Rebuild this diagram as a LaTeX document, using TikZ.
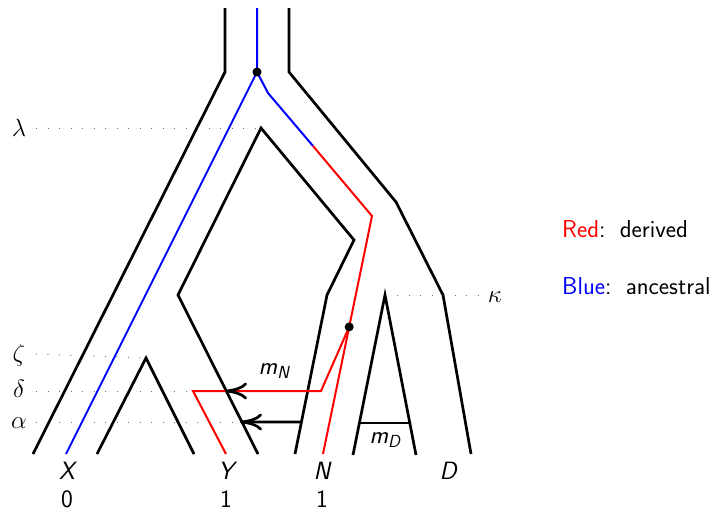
\documentclass[tikz,border=0pt]{standalone}
\usepackage{fontspec}
\usetikzlibrary{arrows.meta,calc}
\begin{document}
\begin{tikzpicture}[x=1pt,y=-1pt,
  blk/.style={line width=2.7pt,black},
  rd/.style={line width=2pt,red},
  blu/.style={line width=2pt,blue},
  dots/.style={black!55,line width=1pt,dash pattern=on 1pt off 10.5pt},
  lab/.style={font=\fontsize{25}{29}\selectfont\sffamily\itshape,inner sep=0pt},
  mlab/.style={font=\fontsize{25}{29}\selectfont\sffamily\itshape,inner sep=0pt},
  num/.style={font=\fontsize{25}{29}\selectfont\sffamily,inner sep=0pt},
  glab/.style={font=\fontsize{25}{29}\selectfont,inner sep=0pt},
  leg/.style={font=\fontsize{24.5}{29}\selectfont\sffamily,inner sep=0pt},
  tip/.style={-{To[length=22pt,width=17pt]}},
  dotn/.style={circle,fill=black,inner sep=0pt,minimum size=9pt}]
\useasboundingbox (0,0) rectangle (725,514);
% outer tree
\coordinate (oLt) at (225,8); \coordinate (oLk) at (225,72); \coordinate (oLb) at (33,454);
\coordinate (oRt) at (289,8); \coordinate (oRk) at (289,72); \coordinate (oRm) at (396,202);
\coordinate (kap) at (443,295); \coordinate (oRb) at (471,454);
% gene path
\coordinate (bt) at (257,8); \coordinate (top) at (257,72); \coordinate (Xb) at (66,454);
\coordinate (b1) at (268,93); \coordinate (sw) at (313,146); \coordinate (rk) at (372,216);
\coordinate (Nb) at (323,454); \coordinate (mut) at ($(rk)!0.466!(Nb)$);
\coordinate (mN) at (321,391); \coordinate (del) at (193,391); \coordinate (Yb) at (226,454);
\coordinate (rA1) at (227,391); \coordinate (rA2) at (225,391);
% inner tree
\coordinate (iA) at (261,128); \coordinate (iR1) at (354,240); \coordinate (iR2) at (327,295);
\coordinate (iRb) at (295,454); \coordinate (iL) at (178,295); \coordinate (iLb) at (258,454);
\coordinate (aS) at ($(iR2)!0.799!(iRb)$); \coordinate (aT) at (240,422);
% small tree
\coordinate (sL) at (97,454); \coordinate (sA) at (146,358); \coordinate (sR) at (194,454);
% D tree
\coordinate (dL) at (353,455); \coordinate (dA) at (385,295); \coordinate (dR) at (416,455);
\coordinate (mD1) at ($(dA)!0.8!(dL)$); \coordinate (mD2) at ($(dA)!0.8!(dR)$);

% labels
\node[glab] (lam) at (19,128) {$\lambda$};
\node[glab] (zet) at (19,355) {$\zeta$};
\node[glab] (dlt) at (19,389) {$\delta$};
\node[glab] (alp) at (19,423) {$\alpha$};
\node[glab] (kpl) at (495,297) {$\kappa$};
\draw[dots] ($(lam.center)+(17,0)$) -- (iA);
\draw[dots] ($(zet.center)+(17,-1)$) -- (sA);
\draw[dots] ($(dlt.center)+(17,2)$) -- (del);
\draw[dots] ($(alp.center)+(17,-1)$) -- (aT);
\draw[dots] ($(dA)+(12,0)$) -- ($(kpl.west)+(-10,-2)$);

% black trees
\draw[blk] (oLt) -- (oLk) -- (oLb);
\draw[blk] (oRt) -- (oRk) -- (oRm) -- (kap) -- (oRb);
\draw[blk] (iLb) -- (iL) -- (iA) -- (iR1) -- (iR2) -- (iRb);
\draw[blk] (sL) -- (sA) -- (sR);
\draw[blk] (dL) -- (dA) -- (dR);
\draw[blk] (mD1) -- (mD2);
\draw[blk,tip] (aS) -- (aT);

% gene lineages
\draw[blu] (bt) -- (top) -- (Xb);
\draw[blu] (top) -- (b1) -- (sw);
\draw[rd] (sw) -- (rk) -- (Nb);
\draw[rd] (mut) -- (mN) -- (del) -- (Yb);
\draw[blk,tip] (rA1) -- (rA2);
\node[dotn] (d1) at (top) {};
\node[dotn] (d2) at (mut) {};

\node[mlab] (mNl) at (274,371) {m\textsubscript{N}};
\node[mlab] (mDl) at (385,440) {m\textsubscript{D}};

\node[lab] (X) at (67,471) {X};
\node[lab] (Y) at (226,471) {Y};
\node[lab] (N) at (322,471) {N};
\node[lab] (D) at (448,471) {D};
\node[num] (n0) at (67,499) {0};
\node[num] (n1) at (226,499) {1};
\node[num] (n2) at (322,499) {1};

\node[leg,anchor=base west] (lr) at (562,237) {\textcolor{red}{Red}:\, derived};
\node[leg,anchor=base west] (lb) at (562,294) {\textcolor{blue}{Blue}:\, ancestral};
\end{tikzpicture}
\end{document}
